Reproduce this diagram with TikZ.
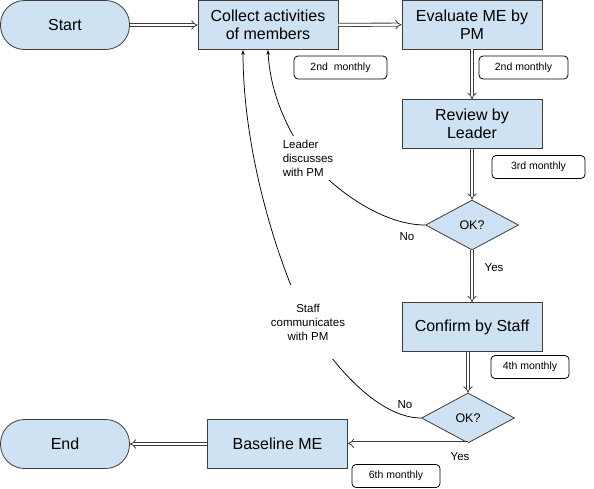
\documentclass[tikz,border=0pt]{standalone}
\usepackage{fontspec}
\setmainfont{Liberation Sans}
\usetikzlibrary{shapes.geometric}
\usetikzlibrary{positioning}
\usetikzlibrary{arrows.meta}
\definecolor{boxblue}{HTML}{CFE2F3}
\definecolor{linegray}{HTML}{3C3C3C}

\begin{document}
\begin{tikzpicture} [
    x=1pt, y=-1pt,
    term/.style = {draw=linegray, line width=0.8pt, fill=boxblue, rounded corners=24pt, minimum width=129pt, minimum height=49pt, font=\fontsize{16}{18.5}\selectfont},
    task/.style = {draw=linegray, line width=0.8pt, fill=boxblue, minimum width=140pt, minimum height=49pt, align=center, font=\fontsize{16}{18.5}\selectfont},
    check/.style = {draw=linegray, line width=0.8pt, fill=boxblue, diamond, aspect=2, inner sep=0pt, minimum width=93pt, minimum height=50pt, font=\fontsize{12.5}{14}\selectfont},
    due/.style = {draw=black, line width=0.8pt, rounded corners=4pt, minimum height=23pt, font=\fontsize{10.5}{12}\selectfont},
    note/.style = {fill=white, inner xsep=2pt, font=\fontsize{11.5}{14}\selectfont},
    lbl/.style = {inner sep=0pt, font=\fontsize{11.5}{14}\selectfont},
    flow/.style = {draw=linegray, double, double distance=2.4pt, line width=0.8pt, -{Implies}},
    back/.style = {draw=black, line width=0.75pt, -{Stealth[length=5pt,width=3.5pt]}}
    ]
    \useasboundingbox (0,0) rectangle (594,488);

    % main flow
    \node[term] (start) at (65,25) {Start};
    \node[task] (collect) at (268,25) {Collect activities\\of members};
    \node[task] (eval) at (472,24.5) {Evaluate ME by\\PM};
    \node[task] (review) at (472,124) {Review by\\Leader};
    \node[check] (ok1) at (472,225) {OK?};
    \node[task] (confirm) at (472,327) {Confirm by Staff};
    \node[check] (ok2) at (468,418) {OK?};
    \node[task] (base) at (277.5,444) {Baseline ME};
    \node[term] (finish) at (65,444) {End};

    % schedule boxes
    \node[due, minimum width=93pt] (d1) at (340.5,67.5) {2nd\ \ monthly};
    \node[due, minimum width=89pt] (d2) at (523.5,67.5) {2nd monthly};
    \node[due, minimum width=93pt] (d3) at (538.5,167) {3rd monthly};
    \node[due, minimum width=78pt] (d4) at (530,367) {4th monthly};
    \node[due, minimum width=88pt] (d6) at (396,476) {6th monthly};

    % decision labels
    \node[lbl] (yes1) at (494,268) {Yes};
    \node[lbl] (no1) at (407,237) {No};
    \node[lbl] (no2) at (405,405) {No};
    \node[lbl] (yes2) at (460,457) {Yes};

    \draw[flow] (start) -- (collect);
    \draw[flow] (collect) -- (eval);
    \draw[flow] (eval) -- (review);
    \draw[flow] (review) -- (ok1);
    \draw[flow] (ok1) -- (confirm);
    \draw[flow] (ok2.north |- confirm.south) -- (ok2);
    \draw[flow] (ok2.south) -- (ok2.south -| base.east);
    \draw[flow] (base) -- (finish);

    % loops back
    \coordinate (leadpos) at (308,158);
    \coordinate (staffpos) at (308,322);
    \draw[back] (ok1.west) .. controls +(-45,0) and +(22,28) .. (leadpos)
        .. controls +(-18,-23) and +(2,45) .. (collect.south);
    \draw[back] (ok2.west) .. controls +(-45,0) and +(20,37) .. (staffpos)
        .. controls +(-25,-45) and +(0,110) .. ([xshift=-25pt]collect.south);
    \node[note, align=left, inner ysep=4pt] (lead) at (leadpos) {Leader\\discusses\\with PM};
    \node[note, align=center, inner ysep=19pt] (staff) at (staffpos) {Staff\\communicates\\with PM};
\end{tikzpicture}
\end{document}
